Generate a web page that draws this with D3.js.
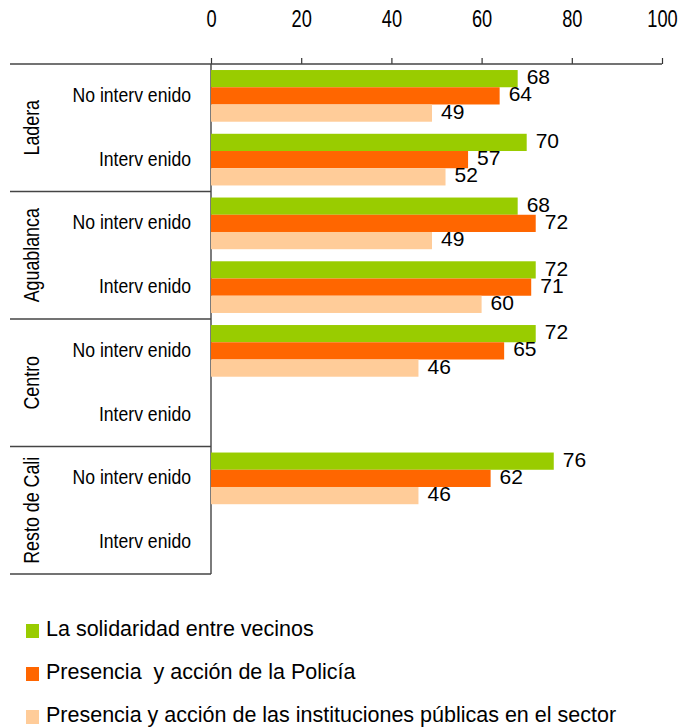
<!DOCTYPE html>
<meta charset="utf-8">
<html>
<head>
    <style>
        body { margin: 0; background: #fff; }
        .tick text { font-family: "Liberation Sans", Arial, sans-serif; font-size: 24px; fill: #000; }
        .tick line { stroke: #333; stroke-width: 1.2px; }
        .sep { stroke: #444; stroke-width: 1.4px; }
        .sub { font-family: "Liberation Sans", Arial, sans-serif; font-size: 21px; text-anchor: end; }
        .region { font-family: "Liberation Sans", Arial, sans-serif; font-size: 21.5px; text-anchor: middle; }
        .val { font-family: "Liberation Sans", Arial, sans-serif; font-size: 21px; }
        .legend text { font-family: "Liberation Sans", Arial, sans-serif; font-size: 21.5px; }
    </style>
    <script src="https://d3js.org/d3.v7.min.js"></script>
</head>
<body>
<svg id="svg" width="689" height="727"></svg>
<script>

    var regions = ["Ladera", "Aguablanca", "Centro", "Resto de Cali"];
    var subgroups = ["No interv enido", "Interv enido"];
    var seriesNames = [
        "La solidaridad entre vecinos",
        "Presencia  y acción de la Policía",
        "Presencia y acción de las instituciones públicas en el sector"
    ];
    var seriesColors = ["#99cc00", "#ff6600", "#ffcc99"];
    var xTicks = [0, 20, 40, 60, 80, 100];

    // one value per region x subgroup, null = no bar
    var solidaridad = [68, 70, 68, 72, 72, null, 76, null];
    var policia = [64, 57, 72, 71, 65, null, 62, null];
    var instituciones = [49, 52, 49, 60, 46, null, 46, null];

    function draw() {
        var svg = d3.select("svg"),
            left = 211, right = 662, plotTop = 64, plotBottom = 574;

        var x = d3.scaleLinear().domain([0, 100]).range([left, right]);

        var yRegion = d3.scaleBand().domain(regions).range([plotTop, plotBottom]);
        var ySub = d3.scaleBand().domain(subgroups).range([0, yRegion.bandwidth()]);
        var yBar = d3.scaleBand().domain(d3.range(3)).range([0, ySub.bandwidth()])
            .paddingOuter(0.35).paddingInner(0);

        var rows = [];
        regions.forEach(function (r, i) {
            subgroups.forEach(function (s, j) {
                var k = i * 2 + j;
                rows.push({region: r, sub: s, values: [solidaridad[k], policia[k], instituciones[k]]});
            });
        });

        // axis on top, labels squeezed like a narrow font
        var axis = d3.axisTop(x).tickValues(xTicks).tickSize(6).tickPadding(31).tickFormat(d3.format("d"));
        var ax = svg.append("g").attr("transform", "translate(0," + plotTop + ")").call(axis);
        ax.select(".domain").remove();
        ax.selectAll(".tick text").attr("transform", "scale(0.76,1)");

        // frame lines
        svg.append("line").attr("class", "sep")
            .attr("x1", 10).attr("x2", right).attr("y1", plotTop).attr("y2", plotTop);
        svg.append("line").attr("class", "sep")
            .attr("x1", left).attr("x2", left).attr("y1", plotTop).attr("y2", plotBottom);
        regions.forEach(function (r) {
            var yb = yRegion(r) + yRegion.bandwidth();
            svg.append("line").attr("class", "sep")
                .attr("x1", 10).attr("x2", left).attr("y1", yb).attr("y2", yb);
        });

        // region labels
        svg.selectAll(".region").data(regions).enter().append("text")
            .attr("class", "region")
            .attr("transform", function (d) {
                return "translate(39," + (yRegion(d) + yRegion.bandwidth() / 2) + ") rotate(-90) scale(0.83,1)";
            })
            .text(function (d) { return d; });

        var row = svg.selectAll(".row").data(rows).enter().append("g")
            .attr("class", "row")
            .attr("transform", function (d) { return "translate(0," + (yRegion(d.region) + ySub(d.sub)) + ")"; });

        row.append("text").attr("class", "sub")
            .attr("transform", "translate(191," + (ySub.bandwidth() / 2 + 6) + ") scale(0.84,1)")
            .text(function (d) { return d.sub; });

        var bars = row.selectAll(".bar")
            .data(function (d) {
                return d.values.map(function (v, i) { return {v: v, i: i}; })
                    .filter(function (e) { return e.v != null; });
            })
            .enter();

        bars.append("rect")
            .attr("x", x(0))
            .attr("y", function (d) { return yBar(d.i); })
            .attr("width", function (d) { return x(d.v) - x(0); })
            .attr("height", yBar.bandwidth())
            .attr("fill", function (d) { return seriesColors[d.i]; });

        bars.append("text").attr("class", "val")
            .attr("x", function (d) { return x(d.v) + 9; })
            .attr("y", function (d) { return yBar(d.i) + yBar.bandwidth() - 3; })
            .text(function (d) { return d.v; });

        // legend
        var leg = svg.selectAll(".legend").data(seriesNames).enter().append("g")
            .attr("class", "legend")
            .attr("transform", function (d, i) { return "translate(26," + (636 + i * 43) + ")"; });
        leg.append("rect")
            .attr("x", 0).attr("y", -12).attr("width", 13).attr("height", 14)
            .attr("fill", function (d, i) { return seriesColors[i]; });
        leg.append("text")
            .attr("x", 20).attr("y", 0)
            .style("white-space", "pre")
            .text(function (d) { return d; });
    }

    draw();

</script>
</body>
</html>
